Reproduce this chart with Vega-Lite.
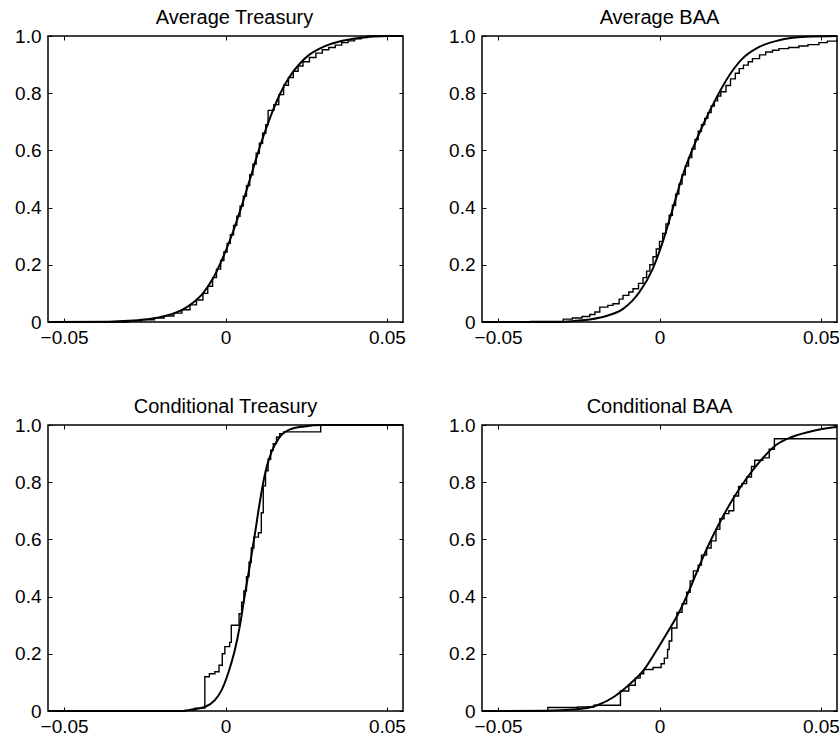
{
  "$schema": "https://vega.github.io/schema/vega-lite/v6.json",
  "background": "white",
  "padding": {"left": 13, "top": 7, "right": 0, "bottom": 0},
  "bounds": "flush",
  "spacing": {"row": 103, "column": 79},
  "columns": 2,
  "datasets": {
    "AT_f": [
      {"x": -0.055, "y": 0}, {"x": -0.036, "y": 0.001}, {"x": -0.030, "y": 0.004}, {"x": -0.025, "y": 0.009},
      {"x": -0.020, "y": 0.018}, {"x": -0.016, "y": 0.03}, {"x": -0.013, "y": 0.045}, {"x": -0.010, "y": 0.068},
      {"x": -0.007, "y": 0.10}, {"x": -0.004, "y": 0.15}, {"x": -0.001, "y": 0.22}, {"x": 0.002, "y": 0.305},
      {"x": 0.005, "y": 0.405}, {"x": 0.008, "y": 0.515}, {"x": 0.011, "y": 0.625}, {"x": 0.014, "y": 0.72},
      {"x": 0.017, "y": 0.80}, {"x": 0.020, "y": 0.86}, {"x": 0.023, "y": 0.903}, {"x": 0.026, "y": 0.935},
      {"x": 0.029, "y": 0.955}, {"x": 0.032, "y": 0.97}, {"x": 0.035, "y": 0.98}, {"x": 0.038, "y": 0.987},
      {"x": 0.042, "y": 0.994}, {"x": 0.046, "y": 0.998}, {"x": 0.050, "y": 1.0}, {"x": 0.055, "y": 1.0}
    ],
    "AT_e": [
      {"x": -0.055, "y": 0}, {"x": -0.030, "y": 0.004}, {"x": -0.026, "y": 0.008}, {"x": -0.022, "y": 0.014},
      {"x": -0.019, "y": 0.021}, {"x": -0.016, "y": 0.031}, {"x": -0.0135, "y": 0.043}, {"x": -0.011, "y": 0.06},
      {"x": -0.009, "y": 0.077}, {"x": -0.007, "y": 0.10}, {"x": -0.0055, "y": 0.125}, {"x": -0.004, "y": 0.155},
      {"x": -0.0028, "y": 0.185}, {"x": -0.0015, "y": 0.215}, {"x": -0.0005, "y": 0.245}, {"x": 0.0005, "y": 0.275},
      {"x": 0.0015, "y": 0.305}, {"x": 0.0025, "y": 0.338}, {"x": 0.0035, "y": 0.37}, {"x": 0.0045, "y": 0.405},
      {"x": 0.0055, "y": 0.44}, {"x": 0.0065, "y": 0.477}, {"x": 0.0075, "y": 0.515}, {"x": 0.0085, "y": 0.552},
      {"x": 0.0095, "y": 0.59}, {"x": 0.0105, "y": 0.625}, {"x": 0.0115, "y": 0.66}, {"x": 0.0125, "y": 0.69},
      {"x": 0.0132, "y": 0.74}, {"x": 0.015, "y": 0.76}, {"x": 0.0165, "y": 0.795}, {"x": 0.018, "y": 0.828},
      {"x": 0.0195, "y": 0.855}, {"x": 0.021, "y": 0.877}, {"x": 0.0225, "y": 0.895}, {"x": 0.024, "y": 0.91},
      {"x": 0.026, "y": 0.925}, {"x": 0.028, "y": 0.94}, {"x": 0.030, "y": 0.952}, {"x": 0.032, "y": 0.96},
      {"x": 0.034, "y": 0.968}, {"x": 0.036, "y": 0.977}, {"x": 0.038, "y": 0.983}, {"x": 0.040, "y": 0.99},
      {"x": 0.042, "y": 0.995}, {"x": 0.044, "y": 1.0}, {"x": 0.055, "y": 1.0}
    ],
    "AB_f": [
      {"x": -0.055, "y": 0}, {"x": -0.031, "y": 0}, {"x": -0.026, "y": 0.004}, {"x": -0.0216, "y": 0.009},
      {"x": -0.0165, "y": 0.021}, {"x": -0.0113, "y": 0.046}, {"x": -0.0062, "y": 0.105}, {"x": -0.0021, "y": 0.186},
      {"x": 0.001, "y": 0.28}, {"x": 0.0041, "y": 0.396}, {"x": 0.0072, "y": 0.513}, {"x": 0.0103, "y": 0.606},
      {"x": 0.0134, "y": 0.687}, {"x": 0.0175, "y": 0.781}, {"x": 0.0216, "y": 0.862}, {"x": 0.0257, "y": 0.921},
      {"x": 0.0309, "y": 0.962}, {"x": 0.037, "y": 0.985}, {"x": 0.0453, "y": 0.997}, {"x": 0.055, "y": 1.0}
    ],
    "AB_e": [
      {"x": -0.055, "y": 0}, {"x": -0.040, "y": 0.002}, {"x": -0.0298, "y": 0.01}, {"x": -0.027, "y": 0.014},
      {"x": -0.024, "y": 0.019}, {"x": -0.0216, "y": 0.026}, {"x": -0.020, "y": 0.035}, {"x": -0.0185, "y": 0.052},
      {"x": -0.016, "y": 0.058}, {"x": -0.0144, "y": 0.064}, {"x": -0.0125, "y": 0.08}, {"x": -0.0113, "y": 0.093},
      {"x": -0.0095, "y": 0.105}, {"x": -0.0082, "y": 0.116}, {"x": -0.0065, "y": 0.135}, {"x": -0.0051, "y": 0.155},
      {"x": -0.004, "y": 0.178}, {"x": -0.003, "y": 0.2}, {"x": -0.002, "y": 0.228}, {"x": -0.001, "y": 0.255},
      {"x": 0.0, "y": 0.282}, {"x": 0.001, "y": 0.31}, {"x": 0.002, "y": 0.343}, {"x": 0.003, "y": 0.373},
      {"x": 0.004, "y": 0.408}, {"x": 0.005, "y": 0.447}, {"x": 0.006, "y": 0.482}, {"x": 0.007, "y": 0.515},
      {"x": 0.008, "y": 0.545}, {"x": 0.009, "y": 0.575}, {"x": 0.010, "y": 0.605}, {"x": 0.011, "y": 0.638},
      {"x": 0.012, "y": 0.667}, {"x": 0.013, "y": 0.69}, {"x": 0.014, "y": 0.712}, {"x": 0.015, "y": 0.732},
      {"x": 0.016, "y": 0.755}, {"x": 0.017, "y": 0.773}, {"x": 0.018, "y": 0.79}, {"x": 0.019, "y": 0.805},
      {"x": 0.0206, "y": 0.827}, {"x": 0.022, "y": 0.85}, {"x": 0.0235, "y": 0.87}, {"x": 0.0247, "y": 0.886},
      {"x": 0.026, "y": 0.898}, {"x": 0.0275, "y": 0.91}, {"x": 0.0288, "y": 0.921}, {"x": 0.031, "y": 0.934},
      {"x": 0.0329, "y": 0.944}, {"x": 0.035, "y": 0.95}, {"x": 0.037, "y": 0.956}, {"x": 0.040, "y": 0.96},
      {"x": 0.0432, "y": 0.965}, {"x": 0.046, "y": 0.97}, {"x": 0.0494, "y": 0.977}, {"x": 0.052, "y": 0.982},
      {"x": 0.055, "y": 0.988}
    ],
    "CT_f": [
      {"x": -0.055, "y": 0}, {"x": -0.013, "y": 0}, {"x": -0.0105, "y": 0.005}, {"x": -0.0064, "y": 0.014},
      {"x": -0.0033, "y": 0.038}, {"x": -0.0012, "y": 0.073}, {"x": 0.0008, "y": 0.131}, {"x": 0.0029, "y": 0.213},
      {"x": 0.0044, "y": 0.295}, {"x": 0.0059, "y": 0.40}, {"x": 0.0075, "y": 0.506}, {"x": 0.009, "y": 0.611},
      {"x": 0.0106, "y": 0.728}, {"x": 0.0121, "y": 0.822}, {"x": 0.0142, "y": 0.904}, {"x": 0.0167, "y": 0.957},
      {"x": 0.0203, "y": 0.986}, {"x": 0.0244, "y": 0.995}, {"x": 0.030, "y": 1.0}, {"x": 0.055, "y": 1.0}
    ],
    "CT_e": [
      {"x": -0.055, "y": 0}, {"x": -0.0125, "y": 0.003}, {"x": -0.0095, "y": 0.01}, {"x": -0.0064, "y": 0.12},
      {"x": -0.005, "y": 0.13}, {"x": -0.0033, "y": 0.137}, {"x": -0.002, "y": 0.16}, {"x": -0.001, "y": 0.2},
      {"x": -0.0002, "y": 0.225}, {"x": 0.0013, "y": 0.24}, {"x": 0.0018, "y": 0.30}, {"x": 0.0042, "y": 0.34},
      {"x": 0.005, "y": 0.38}, {"x": 0.0057, "y": 0.42}, {"x": 0.0065, "y": 0.47}, {"x": 0.0073, "y": 0.52},
      {"x": 0.008, "y": 0.57}, {"x": 0.0088, "y": 0.608}, {"x": 0.0102, "y": 0.623}, {"x": 0.0111, "y": 0.693},
      {"x": 0.0117, "y": 0.787}, {"x": 0.0124, "y": 0.84}, {"x": 0.0132, "y": 0.88}, {"x": 0.014, "y": 0.912},
      {"x": 0.0148, "y": 0.935}, {"x": 0.0158, "y": 0.958}, {"x": 0.0168, "y": 0.97}, {"x": 0.018, "y": 0.976},
      {"x": 0.0295, "y": 1.0}, {"x": 0.055, "y": 1.0}
    ],
    "CB_f": [
      {"x": -0.055, "y": 0}, {"x": -0.035, "y": 0.001}, {"x": -0.0265, "y": 0.005}, {"x": -0.0193, "y": 0.02},
      {"x": -0.0142, "y": 0.049}, {"x": -0.009, "y": 0.096}, {"x": -0.0049, "y": 0.143}, {"x": -0.0008, "y": 0.214},
      {"x": 0.0023, "y": 0.272}, {"x": 0.0054, "y": 0.331}, {"x": 0.0084, "y": 0.401}, {"x": 0.0115, "y": 0.484},
      {"x": 0.0146, "y": 0.566}, {"x": 0.0187, "y": 0.66}, {"x": 0.0228, "y": 0.742}, {"x": 0.0269, "y": 0.812},
      {"x": 0.031, "y": 0.871}, {"x": 0.0361, "y": 0.93}, {"x": 0.0412, "y": 0.959}, {"x": 0.0474, "y": 0.979},
      {"x": 0.0535, "y": 0.991}, {"x": 0.055, "y": 0.993}
    ],
    "CB_e": [
      {"x": -0.055, "y": 0}, {"x": -0.0346, "y": 0.012}, {"x": -0.0254, "y": 0.014}, {"x": -0.0203, "y": 0.02},
      {"x": -0.0121, "y": 0.07}, {"x": -0.0095, "y": 0.09}, {"x": -0.0075, "y": 0.115}, {"x": -0.006, "y": 0.13},
      {"x": -0.0049, "y": 0.145}, {"x": -0.002, "y": 0.152}, {"x": 0.0005, "y": 0.165}, {"x": 0.0015, "y": 0.185},
      {"x": 0.0025, "y": 0.215}, {"x": 0.003, "y": 0.245}, {"x": 0.0038, "y": 0.29}, {"x": 0.0054, "y": 0.345},
      {"x": 0.007, "y": 0.375}, {"x": 0.0084, "y": 0.415}, {"x": 0.0095, "y": 0.455}, {"x": 0.0105, "y": 0.49},
      {"x": 0.012, "y": 0.51}, {"x": 0.013, "y": 0.545}, {"x": 0.0146, "y": 0.57}, {"x": 0.016, "y": 0.595},
      {"x": 0.0175, "y": 0.635}, {"x": 0.0187, "y": 0.672}, {"x": 0.020, "y": 0.69}, {"x": 0.0215, "y": 0.70},
      {"x": 0.023, "y": 0.752}, {"x": 0.0245, "y": 0.785}, {"x": 0.0255, "y": 0.795}, {"x": 0.027, "y": 0.818},
      {"x": 0.0285, "y": 0.855}, {"x": 0.0295, "y": 0.877}, {"x": 0.032, "y": 0.885}, {"x": 0.034, "y": 0.915},
      {"x": 0.0356, "y": 0.952}, {"x": 0.055, "y": 0.952}
    ]
  },
  "concat": [
    {
      "title": {"text": "Average Treasury", "dx": 9},
      "width": 355, "height": 286,
      "layer": [
        {"data": {"name": "AT_f"}, "mark": {"type": "line", "interpolate": "monotone", "color": "black", "strokeWidth": 2},
         "encoding": {
           "x": {"field": "x", "type": "quantitative", "title": null, "scale": {"domain": [-0.055, 0.055], "nice": false, "zero": false}, "axis": {"orient": "bottom", "values": [-0.05, 0, 0.05], "labelExpr": "datum.value == 0 ? '0' : format(datum.value, '.2f')", "labelPadding": 10}},
           "y": {"field": "y", "type": "quantitative", "title": null, "scale": {"domain": [0, 1], "nice": false}, "axis": {"orient": "left", "values": [0, 0.2, 0.4, 0.6, 0.8, 1], "labelExpr": "datum.value == 0 ? '0' : format(datum.value, '.1f')", "labelPadding": 11}}}},
        {"data": {"name": "AT_e"}, "mark": {"type": "line", "interpolate": "step-after", "color": "black", "strokeWidth": 1.4},
         "encoding": {
           "x": {"field": "x", "type": "quantitative", "title": null, "scale": {"domain": [-0.055, 0.055], "nice": false, "zero": false}, "axis": {"orient": "top", "values": [-0.05, 0, 0.05], "labels": false}},
           "y": {"field": "y", "type": "quantitative", "title": null, "scale": {"domain": [0, 1], "nice": false}, "axis": {"orient": "right", "values": [0, 0.2, 0.4, 0.6, 0.8, 1], "labels": false}}}}
      ],
      "resolve": {"axis": {"x": "independent", "y": "independent"}}
    },
    {
      "title": {"text": "Average BAA"},
      "width": 355, "height": 286,
      "layer": [
        {"data": {"name": "AB_f"}, "mark": {"type": "line", "interpolate": "monotone", "color": "black", "strokeWidth": 2},
         "encoding": {
           "x": {"field": "x", "type": "quantitative", "title": null, "scale": {"domain": [-0.055, 0.055], "nice": false, "zero": false}, "axis": {"orient": "bottom", "values": [-0.05, 0, 0.05], "labelExpr": "datum.value == 0 ? '0' : format(datum.value, '.2f')", "labelPadding": 10}},
           "y": {"field": "y", "type": "quantitative", "title": null, "scale": {"domain": [0, 1], "nice": false}, "axis": {"orient": "left", "values": [0, 0.2, 0.4, 0.6, 0.8, 1], "labelExpr": "datum.value == 0 ? '0' : format(datum.value, '.1f')", "labelPadding": 11}}}},
        {"data": {"name": "AB_e"}, "mark": {"type": "line", "interpolate": "step-after", "color": "black", "strokeWidth": 1.4},
         "encoding": {
           "x": {"field": "x", "type": "quantitative", "title": null, "scale": {"domain": [-0.055, 0.055], "nice": false, "zero": false}, "axis": {"orient": "top", "values": [-0.05, 0, 0.05], "labels": false}},
           "y": {"field": "y", "type": "quantitative", "title": null, "scale": {"domain": [0, 1], "nice": false}, "axis": {"orient": "right", "values": [0, 0.2, 0.4, 0.6, 0.8, 1], "labels": false}}}}
      ],
      "resolve": {"axis": {"x": "independent", "y": "independent"}}
    },
    {
      "title": {"text": "Conditional Treasury"},
      "width": 355, "height": 286,
      "layer": [
        {"data": {"name": "CT_f"}, "mark": {"type": "line", "interpolate": "monotone", "color": "black", "strokeWidth": 2},
         "encoding": {
           "x": {"field": "x", "type": "quantitative", "title": null, "scale": {"domain": [-0.055, 0.055], "nice": false, "zero": false}, "axis": {"orient": "bottom", "values": [-0.05, 0, 0.05], "labelExpr": "datum.value == 0 ? '0' : format(datum.value, '.2f')", "labelPadding": 10}},
           "y": {"field": "y", "type": "quantitative", "title": null, "scale": {"domain": [0, 1], "nice": false}, "axis": {"orient": "left", "values": [0, 0.2, 0.4, 0.6, 0.8, 1], "labelExpr": "datum.value == 0 ? '0' : format(datum.value, '.1f')", "labelPadding": 11}}}},
        {"data": {"name": "CT_e"}, "mark": {"type": "line", "interpolate": "step-after", "color": "black", "strokeWidth": 1.4},
         "encoding": {
           "x": {"field": "x", "type": "quantitative", "title": null, "scale": {"domain": [-0.055, 0.055], "nice": false, "zero": false}, "axis": {"orient": "top", "values": [-0.05, 0, 0.05], "labels": false}},
           "y": {"field": "y", "type": "quantitative", "title": null, "scale": {"domain": [0, 1], "nice": false}, "axis": {"orient": "right", "values": [0, 0.2, 0.4, 0.6, 0.8, 1], "labels": false}}}}
      ],
      "resolve": {"axis": {"x": "independent", "y": "independent"}}
    },
    {
      "title": {"text": "Conditional BAA"},
      "width": 355, "height": 286,
      "layer": [
        {"data": {"name": "CB_f"}, "mark": {"type": "line", "interpolate": "monotone", "color": "black", "strokeWidth": 2},
         "encoding": {
           "x": {"field": "x", "type": "quantitative", "title": null, "scale": {"domain": [-0.055, 0.055], "nice": false, "zero": false}, "axis": {"orient": "bottom", "values": [-0.05, 0, 0.05], "labelExpr": "datum.value == 0 ? '0' : format(datum.value, '.2f')", "labelPadding": 10}},
           "y": {"field": "y", "type": "quantitative", "title": null, "scale": {"domain": [0, 1], "nice": false}, "axis": {"orient": "left", "values": [0, 0.2, 0.4, 0.6, 0.8, 1], "labelExpr": "datum.value == 0 ? '0' : format(datum.value, '.1f')", "labelPadding": 11}}}},
        {"data": {"name": "CB_e"}, "mark": {"type": "line", "interpolate": "step-after", "color": "black", "strokeWidth": 1.4},
         "encoding": {
           "x": {"field": "x", "type": "quantitative", "title": null, "scale": {"domain": [-0.055, 0.055], "nice": false, "zero": false}, "axis": {"orient": "top", "values": [-0.05, 0, 0.05], "labels": false}},
           "y": {"field": "y", "type": "quantitative", "title": null, "scale": {"domain": [0, 1], "nice": false}, "axis": {"orient": "right", "values": [0, 0.2, 0.4, 0.6, 0.8, 1], "labels": false}}}}
      ],
      "resolve": {"axis": {"x": "independent", "y": "independent"}}
    }
  ],
  "config": {
    "view": {"stroke": "black", "strokeWidth": 1.5},
    "font": "Liberation Sans",
    "axis": {"grid": false, "domain": false, "tickColor": "black", "tickSize": -4, "tickWidth": 1, "labelColor": "black", "labelFont": "Liberation Sans", "labelFontSize": 19, "labelFlush": false, "labelOverlap": false},
    "title": {"font": "Liberation Sans", "fontSize": 20, "fontWeight": "normal", "color": "black", "baseline": "alphabetic", "offset": -1}
  }
}
